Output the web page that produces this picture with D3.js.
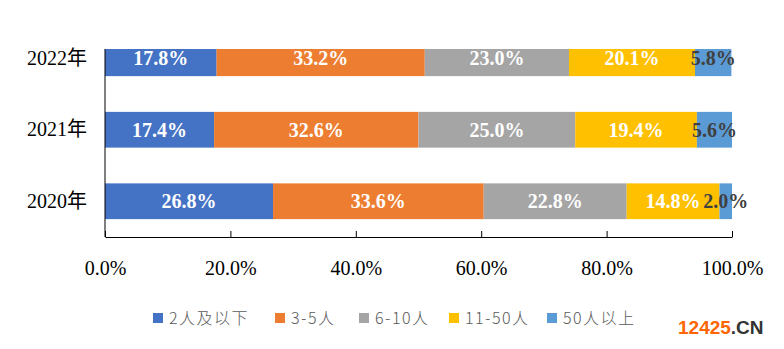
<!DOCTYPE html>
<html><head><meta charset="utf-8">
<script src="https://cdn.jsdelivr.net/npm/d3@7"></script>
<style>body{margin:0;background:#fff}svg{display:block}</style>
</head><body>
<svg id="c" width="784" height="349"></svg>
<script>
const years = ["2022年", "2021年", "2020年"];
const seriesNames = ["2人及以下", "3-5人", "6-10人", "11-50人", "50人以上"];
const s1 = [17.8, 17.4, 26.8];
const s2 = [33.2, 32.6, 33.6];
const s3 = [23.0, 25.0, 22.8];
const s4 = [20.1, 19.4, 14.8];
const s5 = [5.8, 5.6, 2.0];
const tickValues = [0, 20, 40, 60, 80, 100];
const colors = ["#4472C4", "#ED7D31", "#A5A5A5", "#FFC000", "#5B9BD5"];
const labelColors = ["#fff", "#fff", "#fff", "#fff", "#404040"];

const svg = d3.select("#c");
const x = d3.scaleLinear().domain([0, 100]).range([105, 732]);
const y = d3.scaleBand().domain(years).range([22.5, 237]).paddingInner(0.5).paddingOuter(0.25);
const plotTop = 49, plotBottom = 237;

const series = [s1, s2, s3, s4, s5];
const rows = years.map((yr, i) => {
  const o = {year: yr};
  seriesNames.forEach((n, j) => o[n] = series[j][i]);
  return o;
});
const stacked = d3.stack().keys(seriesNames)(rows);

svg.append("clipPath").attr("id", "clip").append("rect")
  .attr("x", 0).attr("y", plotTop).attr("width", 784).attr("height", plotBottom - plotTop);

const g = svg.append("g").attr("clip-path", "url(#clip)");
stacked.forEach((layer, j) => {
  g.selectAll(null).data(layer).join("rect")
    .attr("x", d => x(d[0]))
    .attr("width", d => x(d[1]) - x(d[0]))
    .attr("y", d => y(d.data.year))
    .attr("height", y.bandwidth())
    .attr("fill", colors[j]);
  g.selectAll(null).data(layer).join("text")
    .attr("x", d => (x(d[0]) + x(d[1])) / 2)
    .attr("y", d => y(d.data.year) + y.bandwidth() / 2)
    .attr("dy", "0.35em")
    .attr("text-anchor", "middle")
    .attr("font-family", "'Liberation Serif','Times New Roman',serif")
    .attr("font-weight", "bold")
    .attr("font-size", 20)
    .attr("fill", labelColors[j])
    .text(d => (d[1] - d[0]).toFixed(1) + "%");
});

// bottom axis
const xAxis = d3.axisBottom(x).tickValues(tickValues).tickSizeInner(-6).tickSizeOuter(0)
  .tickFormat(d => d.toFixed(1) + "%").tickPadding(24);
const ax = svg.append("g").attr("transform", `translate(0,${plotBottom})`).call(xAxis);
ax.select(".domain").attr("stroke", "#000");
ax.selectAll(".tick line").attr("stroke", "#000");
ax.selectAll(".tick text")
  .attr("font-family", "'Liberation Serif','Times New Roman',serif")
  .attr("font-size", 20).attr("fill", "#000");

// left axis
const yAxis = d3.axisLeft(y).tickSize(0).tickPadding(18);
const ay = svg.append("g").attr("transform", `translate(${x(0)},0)`).call(yAxis);
ay.select(".domain").remove();
svg.append("line").attr("x1", x(0)).attr("x2", x(0)).attr("y1", plotTop).attr("y2", plotBottom)
  .attr("stroke", "#000");
ay.selectAll(".tick text")
  .attr("font-family", "'Liberation Serif','Noto Sans CJK SC',serif")
  .attr("font-size", 20).attr("fill", "#000");

// legend
const legendX = [153, 275, 359, 449, 547];
const lg = svg.append("g");
seriesNames.forEach((n, j) => {
  lg.append("rect").attr("x", legendX[j]).attr("y", 313).attr("width", 10).attr("height", 10).attr("fill", colors[j]);
  lg.append("text").attr("x", legendX[j] + 16).attr("y", 318).attr("dy", "0.35em")
    .attr("font-family", "'Noto Sans CJK SC',sans-serif").attr("font-weight", 300)
    .attr("font-size", 16).attr("letter-spacing", 1.5).attr("fill", "#595959").text(n);
});

// watermark
const wm = svg.append("text").attr("x", 678).attr("y", 327).attr("dy", "0.35em")
  .attr("font-family", "'Liberation Sans',Arial,sans-serif").attr("font-weight", "bold").attr("font-size", 19);
wm.append("tspan").attr("fill", "#FF6600").text("12425");
wm.append("tspan").attr("fill", "#333").text(".CN");
</script>
</body></html>
